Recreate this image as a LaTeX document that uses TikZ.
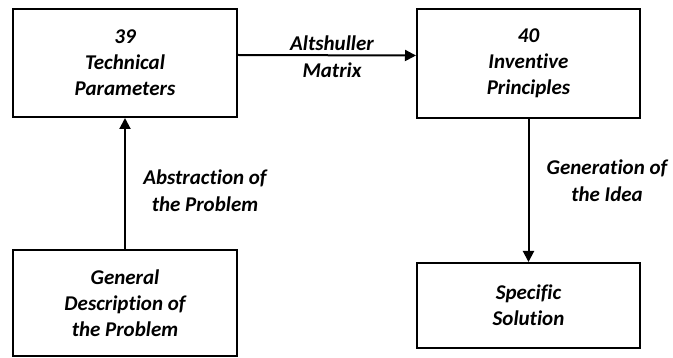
\documentclass[tikz,border=0pt]{standalone}
\usepackage{fontspec}
\setmainfont{Carlito}[Ligatures={NoCommon,NoContextual}]
\usetikzlibrary{arrows.meta}
\begin{document}
\begin{tikzpicture}[x=1pt,y=-1pt,
  every node/.style={font=\fontsize{21}{26}\selectfont\bfseries\itshape, align=center},
  stagebox/.style={draw, line width=2pt, inner sep=0pt},
  flowlabel/.style={inner sep=0pt, font=\fontsize{21}{27}\selectfont\bfseries\itshape},
  flow/.style={line width=2pt, -{Triangle[length=11pt,width=11pt]}}]
  \useasboundingbox (0,0) rectangle (673,358);
  % process stages
  \node[stagebox, minimum width=224pt, minimum height=108pt] (params) at (125,63) {39\\Technical\\Parameters};
  \node[stagebox, minimum width=223pt, minimum height=109pt] (principles) at (528.5,63.5) {40\\Inventive\\Principles};
  \node[stagebox, minimum width=224pt, minimum height=106pt] (general) at (125,303) {General\\Description of\\the Problem};
  \node[stagebox, minimum width=223pt, minimum height=85pt] (solution) at (528.5,305.5) {Specific\\Solution};
  % transitions between stages
  \draw[flow] (general.north) -- (params.south);
  \draw[flow] ([yshift=8pt]params.east) -- ([yshift=8pt]principles.west);
  \draw[flow] (principles.south) -- (solution.north);
  % transition labels
  \node[flowlabel] (matrix) at (332,57) {Altshuller\\Matrix};
  \node[flowlabel] (abstraction) at (205,191) {Abstraction of\\the Problem};
  \node[flowlabel] (generation) at (607,181) {Generation of\\the Idea};
\end{tikzpicture}
\end{document}
